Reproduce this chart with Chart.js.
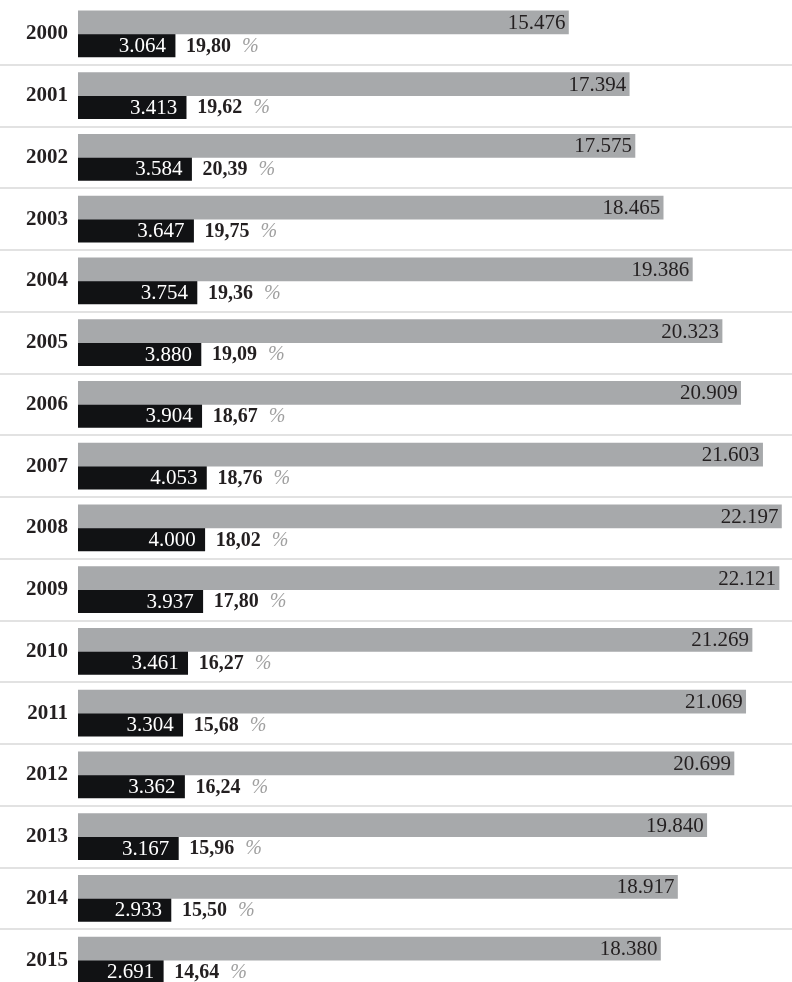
<!DOCTYPE html>
<html>
<head>
<meta charset="utf-8">
<script src="https://cdn.jsdelivr.net/npm/chart.js@4/dist/chart.umd.min.js"></script>
<style>
  html, body { margin: 0; padding: 0; background: #ffffff; overflow: hidden; }
  #wrap { width: 792px; height: 982px; overflow: hidden; }
</style>
</head>
<body>
<div id="wrap"><canvas id="c" width="792" height="991"></canvas></div>
<script>
const years = ["2000","2001","2002","2003","2004","2005","2006","2007","2008","2009","2010","2011","2012","2013","2014","2015"];
const totalValues = [15476, 17394, 17575, 18465, 19386, 20323, 20909, 21603, 22197, 22121, 21269, 21069, 20699, 19840, 18917, 18380];
const partValues = [3064, 3413, 3584, 3647, 3754, 3880, 3904, 4053, 4000, 3937, 3461, 3304, 3362, 3167, 2933, 2691];
const shareLabels = ["19,80","19,62","20,39","19,75","19,36","19,09","18,67","18,76","18,02","17,80","16,27","15,68","16,24","15,96","15,50","14,64"];

function fmt(v) {
  const s = String(Math.round(v));
  return s.replace(/\B(?=(\d{3})+(?!\d))/g, ".");
}

const SERIF = "'Liberation Serif', 'Times New Roman', serif";

const separators = {
  id: 'separators',
  beforeDatasetsDraw(chart) {
    const y = chart.scales.y;
    const ctx = chart.ctx;
    const step = y.getPixelForValue(1) - y.getPixelForValue(0);
    ctx.save();
    ctx.strokeStyle = '#e2e2e2';
    ctx.lineWidth = 2;
    for (let i = 0; i < years.length; i++) {
      const py = y.getPixelForValue(i) + step / 2;
      ctx.beginPath();
      ctx.moveTo(0, Math.round(py));
      ctx.lineTo(chart.width, Math.round(py));
      ctx.stroke();
    }
    ctx.restore();
  }
};

const barLabels = {
  id: 'barLabels',
  afterDatasetsDraw(chart) {
    const ctx = chart.ctx;
    ctx.save();
    ctx.textBaseline = 'middle';
    const m0 = chart.getDatasetMeta(0);
    m0.data.forEach((bar, i) => {
      ctx.font = '21px ' + SERIF;
      ctx.fillStyle = '#231f20';
      ctx.textAlign = 'right';
      ctx.fillText(fmt(totalValues[i]), bar.x - 3, bar.y + 1);
    });
    const m1 = chart.getDatasetMeta(1);
    m1.data.forEach((bar, i) => {
      ctx.font = '21px ' + SERIF;
      ctx.fillStyle = '#ffffff';
      ctx.textAlign = 'right';
      ctx.fillText(fmt(partValues[i]), bar.x - 9, bar.y + 1);
      ctx.textAlign = 'left';
      ctx.font = 'bold 20px ' + SERIF;
      ctx.fillStyle = '#231f20';
      const x0 = bar.x + 11;
      ctx.fillText(shareLabels[i], x0, bar.y + 1);
      const w = ctx.measureText(shareLabels[i]).width;
      ctx.font = 'italic 20px ' + SERIF;
      ctx.fillStyle = '#a0a0a0';
      ctx.fillText('%', x0 + w + 11, bar.y + 1);
    });
    ctx.restore();
  }
};

new Chart(document.getElementById('c'), {
  type: 'bar',
  data: {
    labels: years,
    datasets: [
      { data: totalValues, backgroundColor: '#a7a9ab', barThickness: 23, categoryPercentage: 0.777, barPercentage: 0.96 },
      { data: partValues, backgroundColor: '#111214', barThickness: 23, categoryPercentage: 0.777, barPercentage: 0.96 }
    ]
  },
  options: {
    indexAxis: 'y',
    responsive: false,
    animation: false,
    layout: { padding: { top: 3, left: 0, right: 0, bottom: 0 } },
    plugins: { legend: { display: false }, tooltip: { enabled: false } },
    scales: {
      x: { display: false, min: 0, max: 22530 },
      y: {
        grid: { display: false, drawTicks: false },
        border: { display: false },
        ticks: { padding: 10, color: '#231f20', font: { family: SERIF, size: 21, weight: 'bold' } },
        afterFit(scale) { scale.width = 78; scale.paddingTop = 0; scale.paddingBottom = 0; }
      }
    }
  },
  plugins: [separators, barLabels]
});
</script>
</body>
</html>
